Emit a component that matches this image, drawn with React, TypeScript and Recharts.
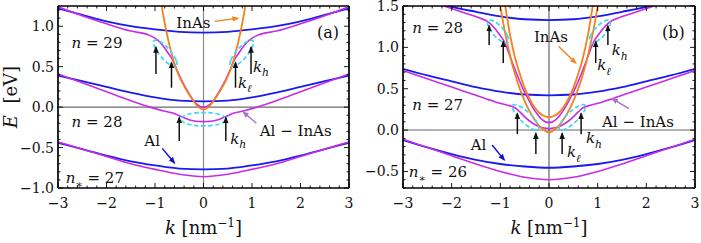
import React from 'react';
import { LineChart, Line, XAxis, YAxis, ReferenceLine, ReferenceDot } from 'recharts';

const FONT = "'DejaVu Serif', 'Liberation Serif', serif";
const BLUE = '#1a1aee';
const MAGENTA = '#c72ce6';
const ORANGE = '#f2821c';
const CYAN = '#40d4f6';
const INK = '#111111';

// ---------------- ticks ----------------
const xTicks = [-3, -2.8, -2.6, -2.4, -2.2, -2, -1.8, -1.6, -1.4, -1.2, -1, -0.8, -0.6, -0.4, -0.2, 0,
  0.2, 0.4, 0.6, 0.8, 1, 1.2, 1.4, 1.6, 1.8, 2, 2.2, 2.4, 2.6, 2.8, 3];
const yTicksA = [-1, -0.9, -0.8, -0.7, -0.6, -0.5, -0.4, -0.3, -0.2, -0.1, 0, 0.1, 0.2, 0.3, 0.4, 0.5,
  0.6, 0.7, 0.8, 0.9, 1, 1.1, 1.2];
const yTicksB = [-0.7, -0.6, -0.5, -0.4, -0.3, -0.2, -0.1, 0, 0.1, 0.2, 0.3, 0.4, 0.5, 0.6, 0.7, 0.8,
  0.9, 1, 1.1, 1.2, 1.3, 1.4, 1.5];

// ---------------- panel (a) data ----------------
const kGrid = [-3, -2.5, -2, -1.5, -1, -0.5, 0, 0.5, 1, 1.5, 2, 2.5, 3];
const alTopA = [1.22, 1.14, 1.06, 1.0, 0.96, 0.93, 0.92, 0.93, 0.96, 1.0, 1.06, 1.14, 1.22];
const alMidA = [0.39, 0.32, 0.25, 0.18, 0.12, 0.08, 0.07, 0.08, 0.12, 0.18, 0.25, 0.32, 0.39];
const alBotA = [-0.44, -0.52, -0.6, -0.67, -0.72, -0.76, -0.77, -0.76, -0.72, -0.67, -0.6, -0.52, -0.44];
const hybBotA = [-0.43, -0.52, -0.61, -0.7, -0.77, -0.83, -0.86, -0.83, -0.77, -0.7, -0.61, -0.52, -0.43];

const kHybMidA = [-3, -2.5, -2, -1.5, -1.1, -0.8, -0.6, -0.45, -0.3, -0.15, 0, 0.15, 0.3, 0.45, 0.6, 0.8, 1.1, 1.5, 2, 2.5, 3];
const hybMidA = [0.41, 0.3, 0.19, 0.08, 0.0, -0.05, -0.08, -0.12, -0.155, -0.175, -0.18, -0.175, -0.155, -0.12, -0.08, -0.05, 0.0, 0.08, 0.19, 0.3, 0.41];

const kHybTopA = [-3, -2.5, -2, -1.5, -1.12, -0.95, -0.88, -0.8, -0.72, -0.64, -0.55, -0.45, -0.35, -0.25, -0.15, 0,
  0.15, 0.25, 0.35, 0.45, 0.55, 0.64, 0.72, 0.8, 0.88, 0.95, 1.12, 1.5, 2, 2.5, 3];
const hybTopA = [1.24, 1.13, 1.03, 0.94, 0.89, 0.83, 0.79, 0.73, 0.66, 0.59, 0.46, 0.33, 0.22, 0.12, 0.04, 0.0,
  0.04, 0.12, 0.22, 0.33, 0.46, 0.59, 0.66, 0.73, 0.79, 0.83, 0.89, 0.94, 1.03, 1.13, 1.24];

const kInAsA = [-0.95, -0.9, -0.8, -0.7, -0.6, -0.5, -0.4, -0.3, -0.2, -0.1, 0, 0.1, 0.2, 0.3, 0.4, 0.5, 0.6, 0.7, 0.8, 0.9, 0.95];
const inAsA = [1.55, 1.38, 1.04, 0.76, 0.54, 0.38, 0.26, 0.16, 0.07, 0.0, -0.03, 0.0, 0.07, 0.16, 0.26, 0.38, 0.54, 0.76, 1.04, 1.38, 1.55];

// cyan dashed ellipses (outline points)
const ellULkA = [-0.537, -0.542, -0.691, -0.9, -1.043, -1.032, -0.884, -0.68];
const ellULeA = [0.484, 0.572, 0.715, 0.825, 0.836, 0.754, 0.616, 0.506];
const ellURkA = [0.537, 0.542, 0.691, 0.9, 1.043, 1.032, 0.884, 0.68];
const ellCkA = [0.51, 0.37, 0, -0.37, -0.51, -0.37, 0, 0.37];
const ellCeA = [-0.15, -0.085, -0.058, -0.085, -0.15, -0.215, -0.242, -0.215];

// ---------------- panel (b) data ----------------
const alTopB = [1.65, 1.57, 1.49, 1.43, 1.375, 1.34, 1.33, 1.34, 1.375, 1.43, 1.49, 1.57, 1.65];
const alMidB = [0.74, 0.66, 0.59, 0.52, 0.465, 0.43, 0.42, 0.43, 0.465, 0.52, 0.59, 0.66, 0.74];
const alBotB = [-0.12, -0.21, -0.29, -0.36, -0.41, -0.44, -0.455, -0.44, -0.41, -0.36, -0.29, -0.21, -0.12];
const hybBotB = [-0.11, -0.21, -0.31, -0.41, -0.5, -0.57, -0.6, -0.57, -0.5, -0.41, -0.31, -0.21, -0.11];

const kHybMidB = [-3, -2.5, -2, -1.5, -1.1, -0.85, -0.7, -0.6, -0.5, -0.4, -0.3, -0.2, -0.1, 0,
  0.1, 0.2, 0.3, 0.4, 0.5, 0.6, 0.7, 0.85, 1.1, 1.5, 2, 2.5, 3];
const hybMidB = [0.72, 0.62, 0.52, 0.42, 0.34, 0.3, 0.27, 0.22, 0.16, 0.11, 0.07, 0.04, 0.025, 0.02,
  0.025, 0.04, 0.07, 0.11, 0.16, 0.22, 0.27, 0.3, 0.34, 0.42, 0.52, 0.62, 0.72];

const kHybTopB = [-3, -2.5, -2, -1.7, -1.45, -1.23, -1.1, -1.0, -0.92, -0.85, -0.75, -0.65, -0.55, -0.45, -0.35, -0.25, -0.15, 0,
  0.15, 0.25, 0.35, 0.45, 0.55, 0.65, 0.75, 0.85, 0.92, 1.0, 1.1, 1.23, 1.45, 1.7, 2, 2.5, 3];
const hybTopB = [1.66, 1.57, 1.47, 1.41, 1.36, 1.3, 1.22, 1.14, 1.07, 0.97, 0.81, 0.66, 0.52, 0.4, 0.29, 0.2, 0.13, 0.09,
  0.13, 0.2, 0.29, 0.4, 0.52, 0.66, 0.81, 0.97, 1.07, 1.14, 1.22, 1.3, 1.36, 1.41, 1.47, 1.57, 1.66];

const kInAsOuterB = [-1.03, -0.9, -0.8, -0.7, -0.6, -0.5, -0.4, -0.3, -0.2, -0.1, 0, 0.1, 0.2, 0.3, 0.4, 0.5, 0.6, 0.7, 0.8, 0.9, 1.03];
const inAsOuterB = [1.6, 1.17, 0.9, 0.68, 0.5, 0.35, 0.23, 0.13, 0.05, 0.0, -0.03, 0.0, 0.05, 0.13, 0.23, 0.35, 0.5, 0.68, 0.9, 1.17, 1.6];
const kInAsInnerB = [-0.95, -0.9, -0.8, -0.7, -0.6, -0.5, -0.4, -0.3, -0.2, -0.1, 0, 0.1, 0.2, 0.3, 0.4, 0.5, 0.6, 0.7, 0.8, 0.9, 0.95];
const inAsInnerB = [1.66, 1.5, 1.15, 0.88, 0.68, 0.51, 0.38, 0.28, 0.21, 0.17, 0.155, 0.17, 0.21, 0.28, 0.38, 0.51, 0.68, 0.88, 1.15, 1.5, 1.66];

const ellULkB = [-0.82, -0.823, -0.954, -1.138, -1.269, -1.268, -1.138, -0.954];
const ellULeB = [1.046, 1.124, 1.24, 1.328, 1.335, 1.258, 1.142, 1.054];
const ellURkB = [0.82, 0.823, 0.954, 1.138, 1.269, 1.268, 1.138, 0.954];
const ellLLkB = [-0.191, -0.214, -0.393, -0.623, -0.768, -0.746, -0.566, -0.337];
const ellLLeB = [-0.01, 0.077, 0.208, 0.307, 0.318, 0.233, 0.102, 0.001];
const ellLRkB = [0.191, 0.214, 0.393, 0.623, 0.768, 0.746, 0.566, 0.337];

// ---------------- helpers ----------------
type Pt = { k: number; E: number };
const zip = (ks: number[], es: number[]): Pt[] => ks.map((k, i) => ({ k, E: es[i] }));

type Series = { pts: Pt[]; color: string; width: number; dash?: string; curve?: any };
type Arrow = { k0: number; E0: number; k1: number; E1: number; color: string; marker: string };
type Part = { t: string; it?: boolean; sub?: boolean };
type Note = { k: number; E: number; parts: Part[]; size: number; color?: string };

const isMajorX = (v: number) => Math.abs(v - Math.round(v)) < 1e-6;
const isMajorY = (v: number) => Math.abs(v * 2 - Math.round(v * 2)) < 1e-6;
const fmtX = (v: number) => (v < -1e-9 ? '\u2212' : '') + Math.abs(Math.round(v));
const fmtY = (v: number) => (v < -1e-9 ? '\u2212' : '') + Math.abs(v).toFixed(1);

const MAJ = 5;
const MIN = 2.5;

const BottomTick = (p: any) => {
  const { x, y, payload } = p;
  const v = payload.value;
  const maj = isMajorX(v);
  return (
    <g>
      <line x1={x} x2={x} y1={y} y2={y - (maj ? MAJ : MIN)} stroke="#000" strokeWidth={0.9} />
      {maj && (
        <text x={x} y={y + 20} textAnchor="middle" fontFamily={FONT} fontSize={14} fill={INK}>
          {fmtX(v)}
        </text>
      )}
    </g>
  );
};
const TopTick = (p: any) => {
  const { x, y, payload } = p;
  const maj = isMajorX(payload.value);
  return <line x1={x} x2={x} y1={y} y2={y + (maj ? MAJ : MIN)} stroke="#000" strokeWidth={0.9} />;
};
const LeftTick = (p: any) => {
  const { x, y, payload } = p;
  const v = payload.value;
  const maj = isMajorY(v);
  return (
    <g>
      <line x1={x} x2={x + (maj ? MAJ : MIN)} y1={y} y2={y} stroke="#000" strokeWidth={0.9} />
      {maj && (
        <text x={x - 4} y={y + 5} textAnchor="end" fontFamily={FONT} fontSize={14} fill={INK}>
          {fmtY(v)}
        </text>
      )}
    </g>
  );
};
const RightTick = (p: any) => {
  const { x, y, payload } = p;
  const maj = isMajorY(payload.value);
  return <line x1={x} x2={x - (maj ? MAJ : MIN)} y1={y} y2={y} stroke="#000" strokeWidth={0.9} />;
};

const XLabel = (props: any) => {
  const vb = props.viewBox || {};
  const cx = vb.x + vb.width / 2;
  const y = vb.y + 46;
  return (
    <text x={cx} y={y} textAnchor="middle" fontFamily={FONT} fontSize={18} fill={INK} style={{ whiteSpace: 'pre' }}>
      <tspan fontStyle="italic">k</tspan>
      <tspan> [nm</tspan>
      <tspan dy={-7} fontSize={12}>{'\u2212'}1</tspan>
      <tspan dy={7}>]</tspan>
    </text>
  );
};
const YLabel = (props: any) => {
  const vb = props.viewBox || {};
  const bx = vb.x + 17;
  const cy = vb.y + vb.height / 2;
  return (
    <text
      transform={`translate(${bx},${cy}) rotate(-90)`}
      textAnchor="middle"
      fontFamily={FONT}
      fontSize={18}
      fill={INK}
      style={{ whiteSpace: 'pre' }}
    >
      <tspan fontStyle="italic">E</tspan>
      <tspan>  [eV]</tspan>
    </text>
  );
};

const renderNote = (p: any, n: Note) => {
  let shift = 0;
  return (
    <text x={p.cx} y={p.cy} fontFamily={FONT} fontSize={n.size} fill={n.color || INK} style={{ whiteSpace: 'pre' }}>
      {n.parts.map((part, i) => {
        const target = part.sub ? n.size * 0.3 : 0;
        const dy = target - shift;
        shift = target;
        return (
          <tspan key={i} dy={dy} fontStyle={part.it ? 'italic' : 'normal'} fontSize={part.sub ? n.size * 0.72 : n.size}>
            {part.t}
          </tspan>
        );
      })}
    </text>
  );
};

const nLabel = (num: string, star = false): Part[] =>
  star ? [{ t: 'n', it: true }, { t: '\u2217', sub: true }, { t: ' = ' + num }] : [{ t: 'n', it: true }, { t: ' = ' + num }];
const kLabel = (s: string): Part[] => [{ t: 'k', it: true }, { t: s, it: true, sub: true }];

// ---------------- panel specs ----------------
const DASH = '4.5 2.5';
const seriesA: Series[] = [
  { pts: zip(kGrid, alTopA), color: BLUE, width: 1.8 },
  { pts: zip(kGrid, alMidA), color: BLUE, width: 1.8 },
  { pts: zip(kGrid, alBotA), color: BLUE, width: 1.8 },
  { pts: zip(kGrid, hybBotA), color: MAGENTA, width: 1.6 },
  { pts: zip(kHybMidA, hybMidA), color: MAGENTA, width: 1.6 },
  { pts: zip(kHybTopA, hybTopA), color: MAGENTA, width: 1.6 },
  { pts: zip(kInAsA, inAsA), color: ORANGE, width: 1.8 },
  { pts: zip(ellULkA, ellULeA), color: CYAN, width: 1.7, dash: DASH, curve: 'basisClosed' },
  { pts: zip(ellURkA, ellULeA), color: CYAN, width: 1.7, dash: DASH, curve: 'basisClosed' },
  { pts: zip(ellCkA, ellCeA), color: CYAN, width: 1.7, dash: DASH, curve: 'basisClosed' },
];

const arrowsA: Arrow[] = [
  { k0: -0.98, E0: 0.41, k1: -0.98, E1: 0.74, color: INK, marker: 'ahBlack' },
  { k0: -0.66, E0: 0.24, k1: -0.66, E1: 0.55, color: INK, marker: 'ahBlack' },
  { k0: 0.66, E0: 0.24, k1: 0.66, E1: 0.55, color: INK, marker: 'ahBlack' },
  { k0: 0.98, E0: 0.41, k1: 0.98, E1: 0.74, color: INK, marker: 'ahBlack' },
  { k0: -0.5, E0: -0.42, k1: -0.5, E1: -0.13, color: INK, marker: 'ahBlack' },
  { k0: 0.46, E0: -0.42, k1: 0.46, E1: -0.13, color: INK, marker: 'ahBlack' },
  { k0: 0.23, E0: 1.06, k1: 0.71, E1: 1.1, color: '#ee8a20', marker: 'ahOrange' },
  { k0: -0.85, E0: -0.51, k1: -0.6, E1: -0.69, color: '#1212d0', marker: 'ahBlue' },
  { k0: 1.09, E0: -0.2, k1: 0.82, E1: -0.06, color: '#a774cc', marker: 'ahPurple' },
];

const notesA: Note[] = [
  { k: -2.72, E: 0.725, parts: nLabel('29'), size: 15 },
  { k: -2.72, E: -0.24, parts: nLabel('28'), size: 15 },
  { k: -2.84, E: -0.94, parts: nLabel('27', true), size: 15 },
  { k: -0.56, E: 0.975, parts: [{ t: 'InAs' }], size: 15 },
  { k: 2.34, E: 0.86, parts: [{ t: '(a)' }], size: 16 },
  { k: -1.22, E: -0.475, parts: [{ t: 'Al' }], size: 15 },
  { k: 1.16, E: -0.36, parts: [{ t: 'Al \u2212 InAs' }], size: 15 },
  { k: 1.02, E: 0.44, parts: kLabel('h'), size: 15 },
  { k: 0.71, E: 0.24, parts: kLabel('\u2113'), size: 15 },
  { k: 0.55, E: -0.45, parts: kLabel('h'), size: 15 },
];

const seriesB: Series[] = [
  { pts: zip(kGrid, alTopB), color: BLUE, width: 1.8 },
  { pts: zip(kGrid, alMidB), color: BLUE, width: 1.8 },
  { pts: zip(kGrid, alBotB), color: BLUE, width: 1.8 },
  { pts: zip(kGrid, hybBotB), color: MAGENTA, width: 1.6 },
  { pts: zip(kHybMidB, hybMidB), color: MAGENTA, width: 1.6 },
  { pts: zip(kHybTopB, hybTopB), color: MAGENTA, width: 1.6 },
  { pts: zip(kInAsOuterB, inAsOuterB), color: ORANGE, width: 1.8 },
  { pts: zip(kInAsInnerB, inAsInnerB), color: ORANGE, width: 1.8 },
  { pts: zip(ellULkB, ellULeB), color: CYAN, width: 1.7, dash: DASH, curve: 'basisClosed' },
  { pts: zip(ellURkB, ellULeB), color: CYAN, width: 1.7, dash: DASH, curve: 'basisClosed' },
  { pts: zip(ellLLkB, ellLLeB), color: CYAN, width: 1.7, dash: DASH, curve: 'basisClosed' },
  { pts: zip(ellLRkB, ellLLeB), color: CYAN, width: 1.7, dash: DASH, curve: 'basisClosed' },
];

const arrowsB: Arrow[] = [
  { k0: -1.23, E0: 1.03, k1: -1.23, E1: 1.26, color: INK, marker: 'ahBlack' },
  { k0: -0.94, E0: 0.81, k1: -0.94, E1: 1.07, color: INK, marker: 'ahBlack' },
  { k0: 0.96, E0: 0.81, k1: 0.96, E1: 1.07, color: INK, marker: 'ahBlack' },
  { k0: 1.21, E0: 1.03, k1: 1.21, E1: 1.26, color: INK, marker: 'ahBlack' },
  { k0: -0.65, E0: -0.05, k1: -0.65, E1: 0.2, color: INK, marker: 'ahBlack' },
  { k0: -0.27, E0: -0.29, k1: -0.27, E1: -0.04, color: INK, marker: 'ahBlack' },
  { k0: 0.27, E0: -0.29, k1: 0.27, E1: -0.04, color: INK, marker: 'ahBlack' },
  { k0: 0.66, E0: -0.05, k1: 0.66, E1: 0.2, color: INK, marker: 'ahBlack' },
  { k0: 0.2, E0: 1.01, k1: 0.55, E1: 0.81, color: '#ee8a20', marker: 'ahOrange' },
  { k0: 1.64, E0: 0.26, k1: 1.3, E1: 0.38, color: '#a774cc', marker: 'ahPurple' },
  { k0: -1.17, E0: -0.18, k1: -0.92, E1: -0.36, color: '#1212d0', marker: 'ahBlue' },
];

const notesB: Note[] = [
  { k: -2.81, E: 1.17, parts: nLabel('28'), size: 15 },
  { k: -2.81, E: 0.24, parts: nLabel('27'), size: 15 },
  { k: -2.88, E: -0.57, parts: nLabel('26', true), size: 15 },
  { k: -0.31, E: 1.065, parts: [{ t: 'InAs' }], size: 15 },
  { k: 2.32, E: 1.11, parts: [{ t: '(b)' }], size: 16 },
  { k: -1.61, E: -0.24, parts: [{ t: 'Al' }], size: 15 },
  { k: 1.09, E: 0.04, parts: [{ t: 'Al \u2212 InAs' }], size: 15 },
  { k: 1.29, E: 0.907, parts: kLabel('h'), size: 15 },
  { k: 0.99, E: 0.726, parts: kLabel('\u2113'), size: 15 },
  { k: 0.76, E: -0.157, parts: kLabel('h'), size: 15 },
  { k: 0.37, E: -0.326, parts: kLabel('\u2113'), size: 15 },
];

const FRAME = { stroke: '#000', strokeWidth: 1.7 };

type PanelProps = {
  width: number;
  yAxisWidth: number;
  rightMargin: number;
  yDomain: [number, number];
  yTicks: number[];
  series: Series[];
  arrows: Arrow[];
  notes: Note[];
  hZero: { stroke: string; width: number };
  vZero: { stroke: string; width: number };
  showYLabel: boolean;
};

function Panel(p: PanelProps) {
  return (
    <LineChart width={p.width} height={243} margin={{ top: 5, right: p.rightMargin, bottom: 0, left: 0 }}>
      <XAxis
        dataKey="k"
        type="number"
        domain={[-3, 3]}
        ticks={xTicks}
        interval={0}
        allowDataOverflow
        height={55}
        tickSize={0}
        tickMargin={0}
        tickLine={false}
        tick={BottomTick}
        axisLine={FRAME}
        label={XLabel}
      />
      <XAxis
        xAxisId="top"
        orientation="top"
        dataKey="k"
        type="number"
        domain={[-3, 3]}
        ticks={xTicks}
        interval={0}
        allowDataOverflow
        height={1}
        tickSize={0}
        tickMargin={0}
        tickLine={false}
        tick={TopTick}
        axisLine={FRAME}
      />
      <YAxis
        type="number"
        domain={p.yDomain}
        ticks={p.yTicks}
        interval={0}
        allowDataOverflow
        width={p.yAxisWidth}
        tickSize={0}
        tickMargin={0}
        tickLine={false}
        tick={LeftTick}
        axisLine={FRAME}
        label={p.showYLabel ? YLabel : undefined}
      />
      <YAxis
        yAxisId="right"
        orientation="right"
        type="number"
        domain={p.yDomain}
        ticks={p.yTicks}
        interval={0}
        allowDataOverflow
        width={1}
        tickSize={0}
        tickMargin={0}
        tickLine={false}
        tick={RightTick}
        axisLine={FRAME}
      />
      <ReferenceLine y={0} stroke={p.hZero.stroke} strokeWidth={p.hZero.width} />
      <ReferenceLine x={0} stroke={p.vZero.stroke} strokeWidth={p.vZero.width} />
      {p.series.map((s, i) => (
        <Line
          key={'s' + i}
          data={s.pts}
          dataKey="E"
          type={s.curve || 'monotone'}
          stroke={s.color}
          strokeWidth={s.width}
          strokeDasharray={s.dash}
          dot={false}
          activeDot={false}
          isAnimationActive={false}
        />
      ))}
      {p.arrows.map((a, i) => (
        <Line
          key={'a' + i}
          data={[
            { k: a.k0, E: a.E0 },
            { k: a.k1, E: a.E1 },
          ]}
          dataKey="E"
          type="linear"
          stroke={a.color}
          strokeWidth={1.5}
          markerEnd={`url(#${a.marker})`}
          dot={false}
          activeDot={false}
          isAnimationActive={false}
        />
      ))}
      {p.notes.map((n, i) => (
        <ReferenceDot key={'n' + i} x={n.k} y={n.E} r={1} ifOverflow="visible" shape={(sp: any) => renderNote(sp, n)} />
      ))}
    </LineChart>
  );
}

const MARKERS: [string, string][] = [
  ['ahBlack', '#111111'],
  ['ahOrange', '#ee8a20'],
  ['ahBlue', '#1212d0'],
  ['ahPurple', '#a774cc'],
];

export default function App() {
  return (
    <div style={{ position: 'absolute', left: 0, top: 0, width: 701, height: 243, background: '#fff', overflow: 'hidden' }}>
      <svg width={0} height={0} style={{ position: 'absolute' }}>
        <defs>
          {MARKERS.map(([id, c]) => (
            <marker
              key={id}
              id={id}
              viewBox="0 0 10 8"
              refX={8}
              refY={4}
              markerWidth={7}
              markerHeight={6}
              markerUnits="userSpaceOnUse"
              orient="auto"
            >
              <path d="M0,0 L10,4 L0,8 Z" fill={c} />
            </marker>
          ))}
        </defs>
      </svg>
      <div style={{ position: 'absolute', left: 0, top: 0 }}>
        <Panel
          width={362}
          yAxisWidth={58}
          rightMargin={12}
          yDomain={[-1, 1.25]}
          yTicks={yTicksA}
          series={seriesA}
          arrows={arrowsA}
          notes={notesA}
          hZero={{ stroke: '#444', width: 1 }}
          vZero={{ stroke: '#8a8a8a', width: 1.2 }}
          showYLabel
        />
      </div>
      <div style={{ position: 'absolute', left: 351, top: 0 }}>
        <Panel
          width={350}
          yAxisWidth={52}
          rightMargin={5}
          yDomain={[-0.7, 1.5]}
          yTicks={yTicksB}
          series={seriesB}
          arrows={arrowsB}
          notes={notesB}
          hZero={{ stroke: '#999', width: 1.5 }}
          vZero={{ stroke: '#333', width: 0.9 }}
          showYLabel={false}
        />
      </div>
    </div>
  );
}
